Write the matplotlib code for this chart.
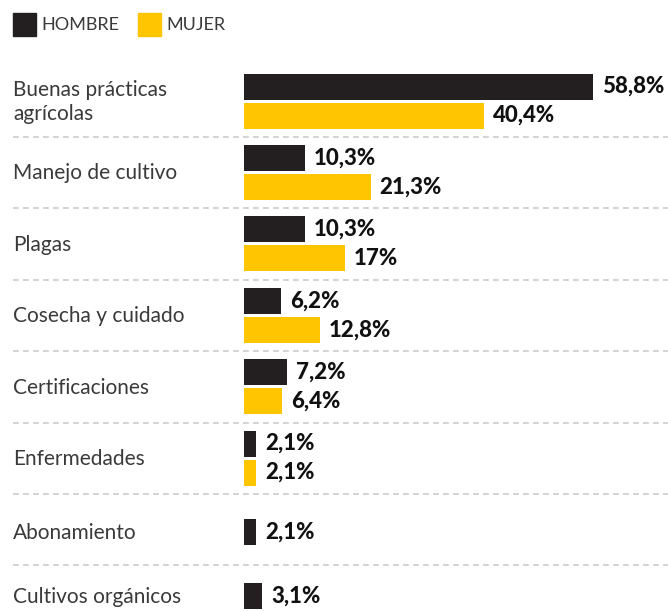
import matplotlib.pyplot as plt
import matplotlib.transforms as mtransforms
from matplotlib.patches import Rectangle
from matplotlib import font_manager

categories = [
    "Buenas prácticas\nagrícolas",
    "Manejo de cultivo",
    "Plagas",
    "Cosecha y cuidado",
    "Certificaciones",
    "Enfermedades",
    "Abonamiento",
    "Cultivos orgánicos",
]
hombre = [58.8, 10.3, 10.3, 6.2, 7.2, 2.1, 2.1, 3.1]
mujer = [40.4, 21.3, 17.0, 12.8, 6.4, 2.1, None, None]
hombre_txt = ["58,8%", "10,3%", "10,3%", "6,2%", "7,2%", "2,1%", "2,1%", "3,1%"]
mujer_txt = ["40,4%", "21,3%", "17%", "12,8%", "6,4%", "2,1%", None, None]

DARK = "#231f20"
YELLOW = "#ffc600"
W, H = 668, 611

names = {f.name for f in font_manager.fontManager.ttflist}
family = "Lato" if "Lato" in names else "DejaVu Sans"

fig = plt.figure(figsize=(W / 100, H / 100), dpi=100)
fig.patch.set_facecolor("white")

# axes starts where the bars start (x = 244 px)
ax = fig.add_axes([244 / W, 0, (W - 244) / W, 1])
px_per_pct = 5.94
ax.set_xlim(0, (W - 244) / px_per_pct)
pitch = 71.4
top0 = 137 - pitch
y_bottom = (H - top0) / pitch
ax.set_ylim(y_bottom, -top0 / pitch)
ax.axis("off")

bar_h = 26 / pitch
off_a = 21 / pitch
off_b = 50 / pitch

blend = mtransforms.blended_transform_factory(fig.transFigure, ax.transData)
val_kw = dict(va="center", ha="left", fontsize=16, fontweight="black",
              color="#111111", family=family)

for i, cat in enumerate(categories):
    if mujer[i] is not None:
        ya, yb = i + off_a, i + off_b
        ax.barh(yb, mujer[i], height=bar_h, color=YELLOW, left=0)
        ax.text(mujer[i] + 9 / px_per_pct, yb, mujer_txt[i], **val_kw)
        y_lab = i + 0.51
    else:
        # last row is cut by the bottom edge, keep its bar inside
        ya = min(i + 0.53, y_bottom - 15 / pitch)
        y_lab = ya + 0.01
    ax.barh(ya, hombre[i], height=bar_h, color=DARK, left=0)
    ax.text(hombre[i] + 9 / px_per_pct, ya, hombre_txt[i], **val_kw)

    ax.text(13 / W, y_lab, cat, transform=blend,
            va="center", ha="left", fontsize=15, fontweight="normal",
            color="#3a3a3a", family=family, linespacing=1.22)
    if i > 0:
        ax.plot([13 / W, 1], [i, i], transform=blend, color="#cccccc",
                linewidth=1.2, linestyle=(0, (3.5, 2.5)), clip_on=False)

# legend
for x0, col, lab in [(13, DARK, "HOMBRE"), (138, YELLOW, "MUJER")]:
    fig.patches.append(Rectangle((x0 / W, 1 - 36 / H), 23 / W, 23 / H,
                                 transform=fig.transFigure, color=col))
    fig.text((x0 + 28) / W, 1 - 25 / H, lab, va="center", ha="left",
             fontsize=13, fontweight="normal", color="#3a3a3a", family=family)

fig.savefig("out.png", dpi=100, facecolor="white")
